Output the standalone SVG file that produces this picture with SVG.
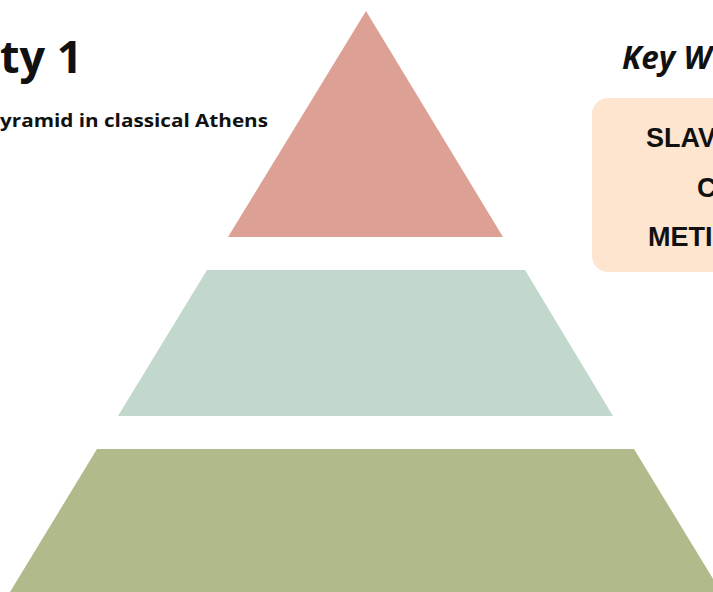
<svg xmlns="http://www.w3.org/2000/svg" width="713" height="592" viewBox="0 0 713 592">
  <style>
    .title { font-family: "Open Sans", "Liberation Sans", sans-serif; font-weight: 700; fill: #111111; }
    .key { font-family: "Liberation Sans", "Open Sans", sans-serif; font-weight: 700; fill: #111111; font-size: 27px; }
  </style>
  <rect x="0" y="0" width="713" height="592" fill="#ffffff"/>
  <g id="heading">
    <text class="title" x="0" y="73" font-size="45">ty 1</text>
    <text class="title" x="0" y="127" font-size="17.5" textLength="268" lengthAdjust="spacingAndGlyphs">yramid in classical Athens</text>
  </g>
  <g id="tier-top">
    <polygon points="366,11 503,237 228,237" fill="#dda095"/>
  </g>
  <g id="tier-middle">
    <polygon points="207,270 525,270 613,416 118,416" fill="#c2d8cd"/>
  </g>
  <g id="tier-bottom">
    <polygon points="97,449 634,449 721,592 10,592" fill="#b1ba8a"/>
  </g>
  <g id="key-words">
    <text class="title" x="622" y="69" font-size="31.5" font-style="italic">Key W</text>
    <rect x="592" y="98" width="160" height="174" rx="16" fill="#fde5cf"/>
    <text class="key" x="646" y="147">SLAV</text>
    <text class="key" x="697" y="197">C</text>
    <text class="key" x="648" y="246">METI</text>
  </g>
</svg>
